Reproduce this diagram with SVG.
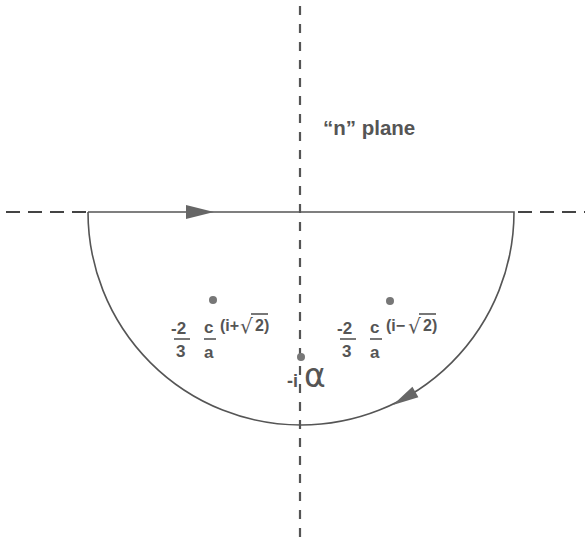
<svg xmlns="http://www.w3.org/2000/svg" width="585" height="540" viewBox="0 0 585 540">
<style>
.t{font-family:"Liberation Sans",Arial,sans-serif;fill:#555;font-weight:bold}
.r{font-family:"DejaVu Sans",sans-serif;fill:#555}
.vdash{stroke:#555;stroke-width:2.2;stroke-dasharray:9,9;fill:none}
.hdash{stroke:#444;stroke-width:2;stroke-dasharray:14,8;fill:none}
.line{stroke:#555;stroke-width:1.6;fill:none}
.bar{stroke:#555;stroke-width:1.6}
.arr{fill:#666}
.dot{fill:#777}
</style>
<rect width="585" height="540" fill="#fff"/>
<g id="axes">
<line class="vdash" x1="300" y1="6" x2="300" y2="540"/>
<line class="hdash" x1="6" y1="212" x2="88" y2="212"/>
<line class="hdash" x1="518" y1="212" x2="585" y2="212"/>
</g>
<g id="connectors">
<path class="line" d="M88,212 H514 A213,213 0 0 1 88,212"/>
<polygon class="arr" points="186,205 214,212 186,219"/>
<polygon class="arr" transform="translate(405,398) rotate(150)" points="-12,-6 14,0 -12,6"/>
</g>
<g id="title"><text class="t" x="323" y="135" font-size="20.5">“n” plane</text></g>
<g id="pole1">
<circle class="dot" cx="213" cy="300" r="4"/>
<text class="t" x="171" y="334" font-size="17">-2</text>
<line class="bar" x1="174" y1="339" x2="190" y2="339"/>
<text class="t" x="176" y="357" font-size="17">3</text>
<text class="t" x="204" y="333" font-size="17">c</text>
<line class="bar" x1="204" y1="339" x2="216" y2="339"/>
<text class="t" x="204" y="358" font-size="17">a</text>
<text class="t" x="220" y="331" font-size="16">(i+</text>
<text class="r" x="240" y="333" font-size="20">√</text>
<text class="t" x="255" y="331" font-size="16">2)</text>
<line class="bar" x1="251" y1="314" x2="268" y2="314"/>
</g>
<g id="pole2">
<circle class="dot" cx="390" cy="301" r="4"/>
<text class="t" x="337" y="334" font-size="17">-2</text>
<line class="bar" x1="340" y1="339" x2="356" y2="339"/>
<text class="t" x="342" y="357" font-size="17">3</text>
<text class="t" x="370" y="333" font-size="17">c</text>
<line class="bar" x1="370" y1="339" x2="382" y2="339"/>
<text class="t" x="370" y="358" font-size="17">a</text>
<text class="t" x="386" y="331" font-size="16">(i−</text>
<text class="r" x="408" y="333" font-size="20">√</text>
<text class="t" x="423" y="331" font-size="16">2)</text>
<line class="bar" x1="419" y1="314" x2="436" y2="314"/>
</g>
<g id="pole3">
<circle class="dot" cx="301" cy="357" r="4"/>
<text class="t" x="287" y="387" font-size="18">-i</text>
<text class="r" x="304" y="387" font-size="33">α</text>
</g>
</svg>
